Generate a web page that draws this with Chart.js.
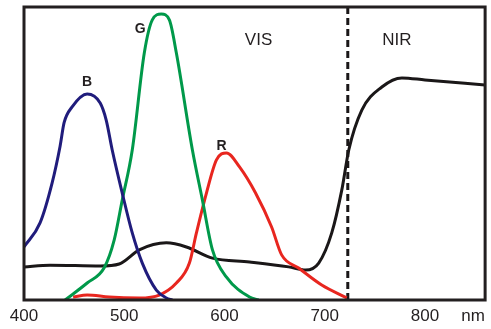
<!DOCTYPE html>
<html>
<head>
<meta charset="utf-8">
<script src="https://cdn.jsdelivr.net/npm/chart.js@4/dist/chart.umd.min.js"></script>
<style>
  html, body { margin: 0; padding: 0; background: #fff; }
  #wrap { width: 491px; height: 329px; }
</style>
</head>
<body>
<div id="wrap"><canvas id="spec"></canvas></div>
<script>
// wavelengths (nm) and relative response
const blueWl = [400, 416, 428, 436, 440, 448, 463, 476, 482, 488, 498, 508, 518, 532, 542, 548];
const blueVal = [18.1, 26.3, 39.9, 52.5, 60.5, 65.9, 70.3, 67.2, 61.4, 51.2, 36.5, 22.9, 12.6, 3.4, 0.7, 0];

const greenWl = [441, 463, 480, 490, 498, 508, 520, 528, 537, 545, 552, 568, 578, 588, 602, 625, 634];
const greenVal = [0, 5.8, 11.0, 20.5, 34.1, 51.2, 84.3, 95.6, 97.6, 95.6, 84.3, 51.2, 34.1, 17.1, 7.8, 1.0, 0];

const redWl = [449, 463, 485, 515, 535, 552, 565, 572, 582, 592, 602, 615, 631, 647, 657, 674, 697, 722];
const redVal = [1.0, 1.7, 1.0, 0.7, 1.7, 5.8, 12.6, 22.9, 36.5, 47.8, 50.2, 45.4, 36.5, 24.9, 15.4, 10.9, 5.1, 0.7];

const leafWl = [400, 426, 476, 495, 515, 542, 562, 588, 625, 664, 681, 694, 707, 717, 724, 737, 757, 777, 800, 860];
const leafVal = [11.3, 11.9, 11.6, 12.3, 17.1, 19.5, 18.1, 14.3, 13.0, 11.3, 10.2, 12.6, 22.9, 37.5, 51.2, 64.8, 72.7, 75.8, 75.1, 73.4];

const borderWl = 723;
const xTicks = [400, 500, 600, 700, 800];
const unitPos = 848;
const unitLabel = "nm";

// text labels: [text, wavelength, value, bold]
const labels = [
  ["B", 463, 74.2, true],
  ["G", 516, 92.3, true],
  ["R", 597, 52.6, true],
  ["VIS", 634, 88.8, false],
  ["NIR", 772, 88.8, false]
];

function pts(xs, ys) {
  return xs.map((x, i) => ({ x: x, y: ys[i] }));
}

const frame = {
  id: "frame",
  afterDatasetsDraw(chart) {
    const ctx = chart.ctx;
    const a = chart.chartArea;
    const xs = chart.scales.x, ys = chart.scales.y;
    ctx.save();
    ctx.strokeStyle = "#231f20";
    ctx.lineWidth = 3;
    ctx.strokeRect(a.left, a.top, a.right - a.left, a.bottom - a.top);
    ctx.fillStyle = "#231f20";
    ctx.textAlign = "center";
    ctx.textBaseline = "middle";
    labels.forEach(l => {
      ctx.font = (l[3] ? "bold 14px" : "17px") + " 'Liberation Sans', Arial, sans-serif";
      ctx.fillText(l[0], xs.getPixelForValue(l[1]), ys.getPixelForValue(l[2]));
    });
    ctx.restore();
  }
};

const lineStyle = { borderWidth: 3, pointRadius: 0, cubicInterpolationMode: "monotone", fill: false };

new Chart(document.getElementById("spec"), {
  type: "line",
  data: {
    datasets: [
      Object.assign({ label: "B", data: pts(blueWl, blueVal), borderColor: "#201c7c" }, lineStyle),
      Object.assign({ label: "G", data: pts(greenWl, greenVal), borderColor: "#00994a" }, lineStyle),
      Object.assign({ label: "R", data: pts(redWl, redVal), borderColor: "#e8261f" }, lineStyle),
      Object.assign({ label: "leaf", data: pts(leafWl, leafVal), borderColor: "#1a1718" }, lineStyle),
      {
        label: "VIS/NIR",
        data: [{ x: borderWl, y: 0 }, { x: borderWl, y: 100 }],
        borderColor: "#1a1718",
        borderWidth: 3,
        borderDash: [7, 4],
        pointRadius: 0
      }
    ]
  },
  options: {
    responsive: true,
    maintainAspectRatio: false,
    animation: false,
    layout: { padding: { left: 24, right: 4, top: 7, bottom: 0 } },
    plugins: { legend: { display: false }, tooltip: { enabled: false } },
    scales: {
      x: {
        type: "linear",
        min: 400,
        max: 860,
        grid: { display: false, drawTicks: false },
        border: { display: false },
        afterBuildTicks(scale) {
          scale.ticks = xTicks.concat([unitPos]).map(v => ({ value: v }));
        },
        afterFit(scale) { scale.height = 29; },
        ticks: {
          color: "#231f20",
          padding: 6,
          maxRotation: 0,
          autoSkip: false,
          font: { size: 17, family: "'Liberation Sans', Arial, sans-serif" },
          callback: v => (v === unitPos ? unitLabel : String(v))
        }
      },
      y: {
        display: false,
        min: 0,
        max: 100
      }
    }
  },
  plugins: [frame]
});
</script>
</body>
</html>
